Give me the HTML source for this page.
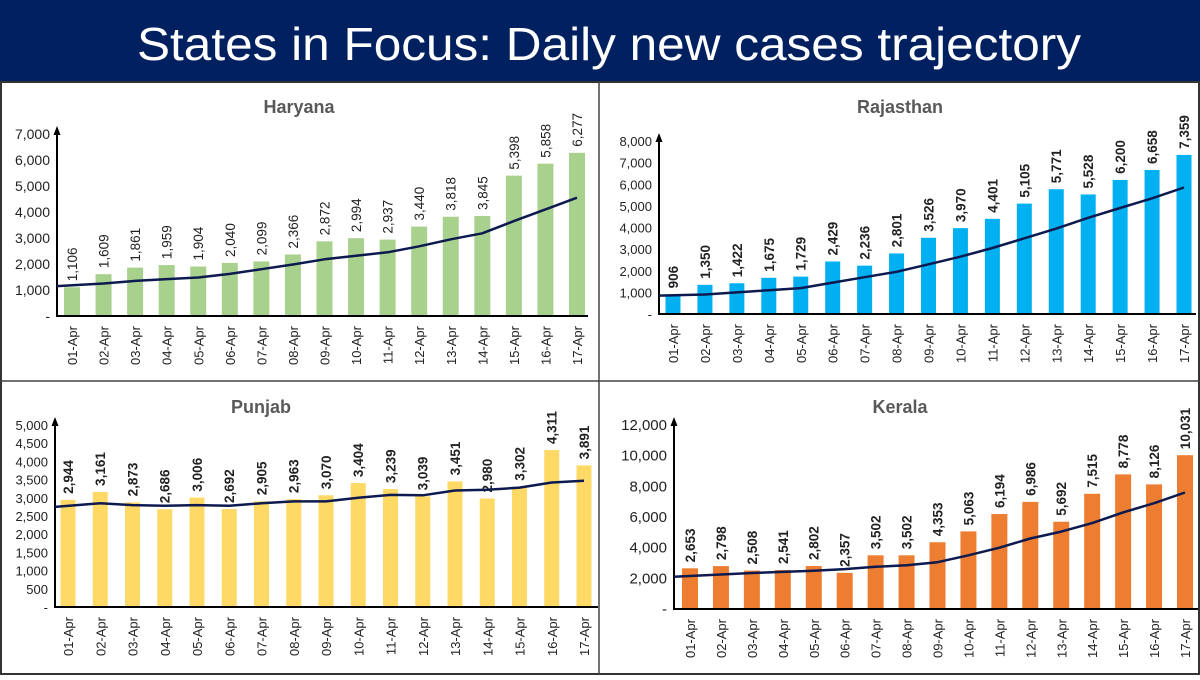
<!DOCTYPE html>
<html><head><meta charset="utf-8"><style>
body{margin:0;width:1200px;height:675px;overflow:hidden;background:#fff;font-family:"Liberation Sans",sans-serif}
</style></head><body>
<svg id="c" width="1200" height="675" xmlns="http://www.w3.org/2000/svg">
<rect x="0" y="0" width="1200" height="675" fill="#fff"/>
<rect x="0" y="0" width="1200" height="81" fill="#002060"/>
<text x="609" y="60" fill="#fff" font-size="46" text-anchor="middle" textLength="944" lengthAdjust="spacingAndGlyphs">States in Focus: Daily new cases trajectory</text>
<rect x="1" y="82" width="1198" height="592" fill="none" stroke="#333" stroke-width="2"/>
<line x1="599" y1="82" x2="599" y2="674" stroke="#444" stroke-width="1.5"/>
<line x1="0" y1="381" x2="1200" y2="381" stroke="#444" stroke-width="1.5"/>
<g id="charts"></g>
</svg>
<script>
const dates = ["01-Apr","02-Apr","03-Apr","04-Apr","05-Apr","06-Apr","07-Apr","08-Apr","09-Apr","10-Apr","11-Apr","12-Apr","13-Apr","14-Apr","15-Apr","16-Apr","17-Apr"];
const haryanaCases = [1106,1609,1861,1959,1904,2040,2099,2366,2872,2994,2937,3440,3818,3845,5398,5858,6277];
const haryanaTrend = [1150,1250,1350,1420,1480,1620,1800,1980,2180,2320,2450,2680,2950,3180,3650,4100,4550];
const rajasthanCases = [906,1350,1422,1675,1729,2429,2236,2801,3526,3970,4401,5105,5771,5528,6200,6658,7359];
const rajasthanTrend = [850,900,1000,1100,1200,1450,1700,1950,2300,2650,3050,3500,3950,4450,4900,5350,5850];
const punjabCases = [2944,3161,2873,2686,3006,2692,2905,2963,3070,3404,3239,3039,3451,2980,3302,4311,3891];
const punjabTrend = [2750,2850,2800,2780,2800,2780,2850,2900,2900,3000,3080,3070,3200,3220,3280,3420,3470];
const keralaCases = [2653,2798,2508,2541,2802,2357,3502,3502,4353,5063,6194,6986,5692,7515,8778,8126,10031];
const keralaTrend = [2100,2250,2350,2420,2500,2600,2750,2850,3050,3500,4000,4600,5050,5600,6300,6900,7600];
const haryanaTicks = [0,1000,2000,3000,4000,5000,6000,7000];
const rajasthanTicks = [0,1000,2000,3000,4000,5000,6000,7000,8000];
const punjabTicks = [0,500,1000,1500,2000,2500,3000,3500,4000,4500,5000];
const keralaTicks = [0,2000,4000,6000,8000,10000,12000];

const NS="http://www.w3.org/2000/svg";
const root=document.getElementById('charts');
function mk(tag,attrs,parent){const e=document.createElementNS(NS,tag);for(const k in attrs)e.setAttribute(k,attrs[k]);parent.appendChild(e);return e;}
function fmt(v){return v===0?'-':v.toLocaleString('en-US');}

function panel(cfg){
  const g=mk('g',{},root);
  
  
  const t=mk('text',{x:cfg.tx,y:cfg.ty,'text-anchor':'middle','font-size':18,'font-weight':'bold',fill:'#595959'},g);
  t.textContent=cfg.title;
  
  
  const maxT=cfg.ticks[cfg.ticks.length-1];
  const y=v=>cfg.base-(v/maxT)*(cfg.base-cfg.top);
  const x=i=>cfg.x0+i*(cfg.x1-cfg.x0)/(dates.length-1);
  cfg.ticks.forEach(tv=>{
    const tt=mk('text',{x:cfg.ax-7,y:y(tv)+5,'text-anchor':'end','font-size':cfg.tickSize||13,fill:'#222'},g);
    tt.textContent=fmt(tv);
    
    
  });
  cfg.cases.forEach((v,i)=>{
    const b=mk('rect',{x:x(i)-cfg.bw/2,y:y(v),width:cfg.bw,height:cfg.base-y(v),fill:cfg.color},g);
    
    
    const lx=x(i)+5, ly=y(v)-6;
    const l=mk('text',{x:lx,y:ly,transform:`rotate(-90 ${lx} ${ly})`,'font-size':13.5,'font-weight':cfg.boldLab?'bold':'normal',fill:'#222'},g);
    l.textContent=fmt(v);
    
    
    const dx=x(i)+5, dy=cfg.base+10;
    const d=mk('text',{x:dx,y:dy,transform:`rotate(-90 ${dx} ${dy})`,'text-anchor':'end','font-size':13,fill:'#222'},g);
    d.textContent=dates[i];
    
    
  });
  const ax=mk('path',{d:`M${cfg.ax} ${cfg.top-5} V${cfg.base} H${cfg.axEnd}`,fill:'none',stroke:'#000','stroke-width':2},g);
  
  
  const ar=mk('path',{d:`M${cfg.ax-3.5} ${cfg.top+1} L${cfg.ax} ${cfg.top-8} L${cfg.ax+3.5} ${cfg.top+1} Z`,fill:'#000'},g);
  
  
  let d='';
  cfg.trend.forEach((v,i)=>{const px=i===0?cfg.ax:x(i);d+=(i?'L':'M')+px.toFixed(1)+' '+y(v).toFixed(1);});
  const ln=mk('path',{d:d,fill:'none',stroke:'#0d1a4f','stroke-width':2.5,'stroke-linejoin':'round'},g);
  
  
}
panel({key:'haryana',title:'Haryana',tx:299,ty:113,ticks:haryanaTicks,cases:haryanaCases,trend:haryanaTrend,color:'#a9d18e',ax:57,axEnd:588,base:316,top:134,x0:72,x1:577,bw:16,boldLab:false,tickSize:14});
panel({key:'rajasthan',title:'Rajasthan',tx:900,ty:113,ticks:rajasthanTicks,cases:rajasthanCases,trend:rajasthanTrend,color:'#00b0f0',ax:659,axEnd:1196,base:314,top:141,x0:673,x1:1184,bw:15,boldLab:true});
panel({key:'punjab',title:'Punjab',tx:261,ty:413,ticks:punjabTicks,cases:punjabCases,trend:punjabTrend,color:'#ffd966',ax:55,axEnd:598,base:607,top:425,x0:68,x1:584,bw:15,boldLab:true});
panel({key:'kerala',title:'Kerala',tx:900,ty:413,ticks:keralaTicks,cases:keralaCases,trend:keralaTrend,color:'#ed7d31',ax:674,axEnd:1198,base:609,top:425,x0:690,x1:1185,bw:16,boldLab:true,tickSize:15});
</script>
</body></html>
